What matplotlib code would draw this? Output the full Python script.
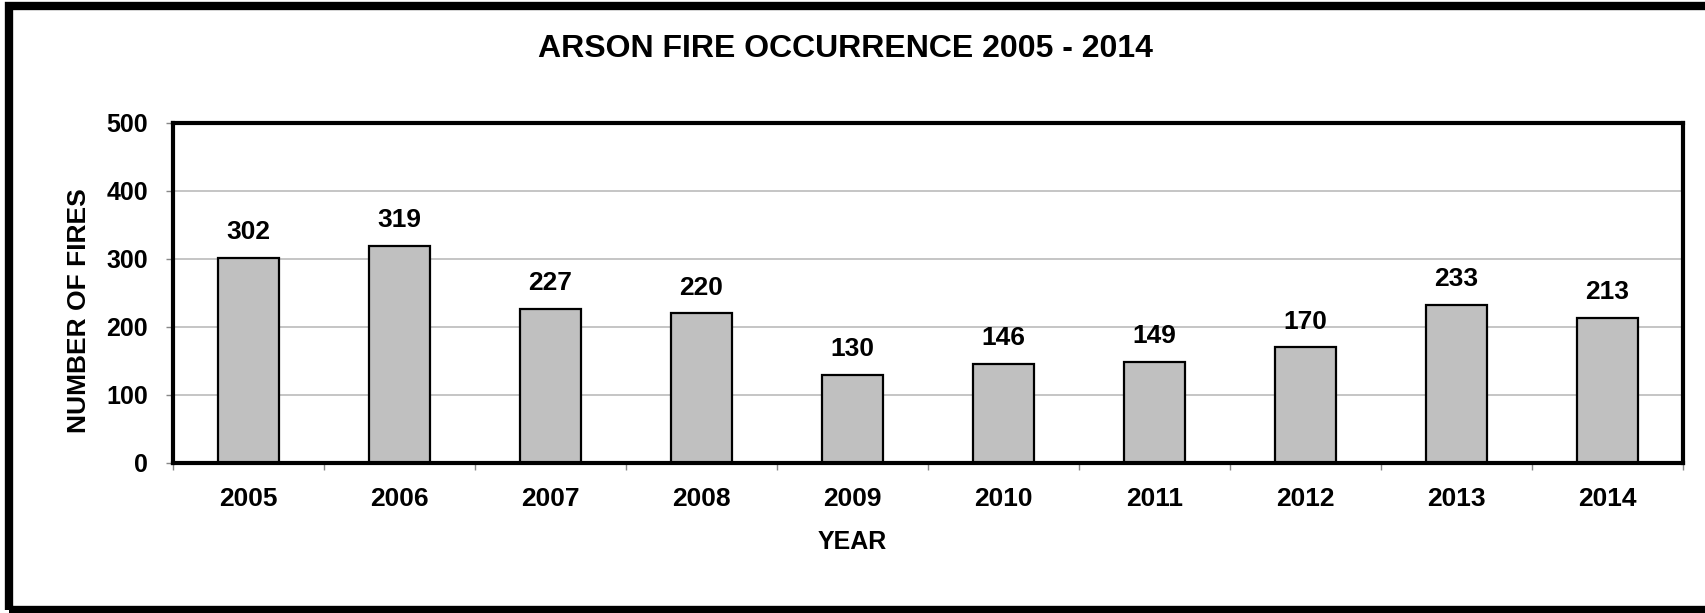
import matplotlib.pyplot as plt
from matplotlib.patches import Rectangle
import numpy as np

years = ['2005', '2006', '2007', '2008', '2009', '2010', '2011', '2012', '2013', '2014']
fires = [302, 319, 227, 220, 130, 146, 149, 170, 233, 213]
y_ticks = [0, 100, 200, 300, 400, 500]

plt.rcParams['font.family'] = ['Liberation Sans', 'DejaVu Sans']
plt.rcParams['font.weight'] = 'bold'

fig = plt.figure(figsize=(17.05, 6.13), dpi=100)
ax = fig.add_axes([173/1705, 1 - 463/613, (1683 - 173)/1705, (463 - 123)/613])

x = np.arange(len(years))
ax.set_axisbelow(True)
ax.yaxis.grid(True, color='#BBBBBB', linewidth=1.2)
bars = ax.bar(x, fires, width=0.4, color='#C0C0C0', edgecolor='black', linewidth=1.6)
ax.bar_label(bars, padding=10, fontsize=19, fontweight='bold')

ax.set_xlim(-0.5, len(years) - 0.5)
ax.set_ylim(0, 500)
ax.set_yticks(y_ticks)
ax.set_xticks(x)
ax.set_xticklabels(years)
ax.set_xticks(np.arange(len(years) + 1) - 0.5, minor=True)
ax.tick_params(axis='x', which='major', length=0, pad=17, labelsize=19)
ax.tick_params(axis='x', which='minor', length=5, width=1, color='#888888', direction='out')
ax.tick_params(axis='y', length=5, width=1, color='#888888', pad=13, labelsize=18)
for s in ax.spines.values():
    s.set_linewidth(3)
    s.set_color('black')

fig.text(845/1705, 1 - 49/613, 'ARSON FIRE OCCURRENCE 2005 - 2014', ha='center', va='center',
         fontsize=23, fontweight='bold')
fig.text(852/1705, 1 - 542/613, 'YEAR', ha='center', va='center', fontsize=18, fontweight='bold')
fig.text(79/1705, 1 - 311/613, 'NUMBER OF FIRES', ha='center', va='center', rotation=90,
         fontsize=19, fontweight='bold')

# outer frame, right side runs off the picture
fig.patches.append(Rectangle((9/1705, 3/613), 1.05, 1 - 9/613, transform=fig.transFigure,
                             fill=False, edgecolor='black', linewidth=6))

fig.savefig('out.png', dpi=100)
